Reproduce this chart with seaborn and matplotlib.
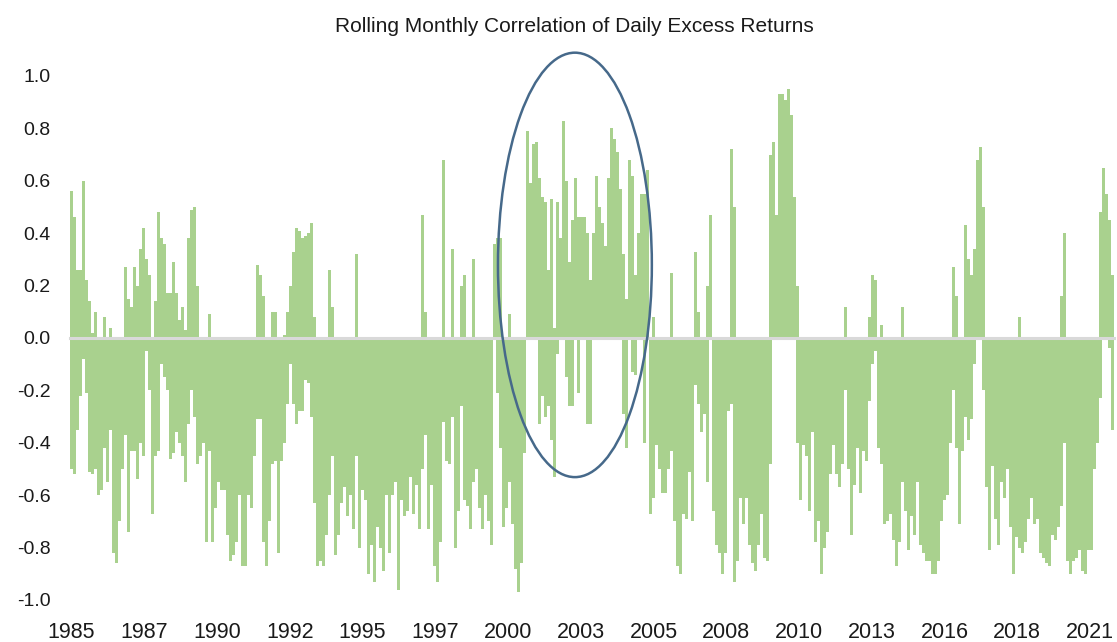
import numpy as np
import pandas as pd
import matplotlib
matplotlib.use("Agg")
import matplotlib.pyplot as plt
import seaborn as sns
from matplotlib.patches import Ellipse

# ---- data: rolling monthly correlation of daily excess returns ----
# The daily series is far denser than the pixels; each entry is one ~3 px bin,
# giving the highest (>=0) and lowest (<=0) daily correlation inside that bin.
high_1985_87 = [0.56, 0.46, 0.26, 0.26, 0.60, 0.22, 0.14, 0.02, 0.10, 0,
                0, 0.08, 0, 0.04, 0, 0, 0, 0, 0.27, 0.15,
                0.12, 0.27, 0.20, 0.34, 0.42, 0.30, 0.24, 0]
low_1985_87 = [-0.50, -0.52, -0.35, -0.22, -0.08, -0.21, -0.51, -0.52, -0.50, -0.60,
               -0.58, -0.42, -0.55, -0.35, -0.82, -0.86, -0.70, -0.50, -0.37, -0.74,
               -0.43, -0.43, -0.54, -0.40, -0.45, -0.05, -0.20, -0.67]

high_1988_90 = [0.14, 0.48, 0.38, 0.36, 0.17, 0.17, 0.29, 0.17, 0.07, 0.12,
                0.03, 0.38, 0.49, 0.50, 0.20, 0, 0, 0, 0.09, 0,
                0, 0, 0, 0, 0, 0, 0, 0, 0, 0,
                0, 0, 0, 0]
low_1988_90 = [-0.45, -0.43, -0.10, -0.15, -0.20, -0.46, -0.44, -0.36, -0.40, -0.45,
               -0.55, -0.33, -0.20, -0.30, -0.48, -0.45, -0.40, -0.78, -0.43, -0.78,
               -0.65, -0.55, -0.58, -0.58, -0.75, -0.85, -0.83, -0.78, -0.60, -0.87,
               -0.87, -0.60, -0.65, -0.45]

high_1991_94 = [0.28, 0.24, 0.16, 0, 0, 0.10, 0.10, 0, 0, 0.01,
                0.10, 0.20, 0.33, 0.42, 0.41, 0.38, 0.39, 0.40, 0.44, 0.08,
                0, 0, 0, 0, 0.26, 0.12, 0, 0, 0, 0,
                0]
low_1991_94 = [-0.31, -0.31, -0.78, -0.87, -0.70, -0.48, -0.47, -0.82, -0.47, -0.40,
               -0.25, -0.10, -0.25, -0.33, -0.28, -0.28, -0.16, -0.17, -0.30, -0.63,
               -0.87, -0.85, -0.87, -0.75, -0.60, -0.45, -0.83, -0.75, -0.63, -0.57,
               -0.68]

high_1994_97 = [0, 0, 0.32, 0, 0, 0, 0, 0, 0, 0,
                0, 0, 0, 0, 0, 0, 0, 0, 0, 0,
                0, 0, 0, 0, 0.47, 0.10, 0, 0, 0, 0,
                0, 0.68]
low_1994_97 = [-0.60, -0.73, -0.45, -0.80, -0.58, -0.62, -0.90, -0.79, -0.93, -0.72,
               -0.80, -0.89, -0.60, -0.82, -0.60, -0.55, -0.96, -0.62, -0.68, -0.66,
               -0.53, -0.67, -0.56, -0.73, -0.50, -0.37, -0.73, -0.56, -0.87, -0.93,
               -0.78, -0.32]

high_1998_01 = [0, 0, 0.34, 0, 0, 0.20, 0.24, 0, 0, 0.30,
                0, 0, 0, 0, 0, 0, 0.36, 0.38, 0.38, 0,
                0, 0.09, 0, 0, 0, 0, 0, 0.79, 0.59, 0.74,
                0.75, 0.61]
low_1998_01 = [-0.47, -0.48, -0.30, -0.80, -0.66, -0.26, -0.62, -0.64, -0.73, -0.55,
               -0.50, -0.65, -0.73, -0.60, -0.70, -0.79, 0, -0.21, -0.42, -0.72,
               -0.65, -0.55, -0.71, -0.88, -0.97, -0.86, -0.44, 0, 0, 0,
               0, -0.33]

high_2001_04 = [0.54, 0.52, 0.26, 0.53, 0.04, 0.52, 0.38, 0.83, 0.60, 0.29,
                0.45, 0.61, 0.46, 0.46, 0.46, 0.40, 0.22, 0.40, 0.62, 0.50,
                0.44, 0.35, 0.61, 0.80, 0.76, 0.71, 0.57, 0.32, 0.15, 0.68,
                0.62]
low_2001_04 = [-0.22, -0.30, -0.26, -0.39, -0.53, -0.06, 0, 0, -0.15, -0.26,
               -0.26, 0, -0.21, 0, 0, -0.33, -0.33, 0, 0, 0,
               0, 0, 0, 0, 0, 0, 0, -0.29, -0.42, 0,
               -0.13]

high_2004_07 = [0.24, 0.40, 0.55, 0.55, 0.64, 0, 0.08, 0, 0, 0,
                0, 0, 0.25, 0, 0, 0, 0, 0, 0, 0,
                0.33, 0.10, 0, 0, 0.20, 0.47, 0, 0, 0, 0,
                0, 0]
low_2004_07 = [-0.14, 0, 0, -0.40, 0, -0.67, -0.61, -0.41, -0.50, -0.59,
               -0.59, -0.50, -0.43, -0.70, -0.87, -0.90, -0.67, -0.69, -0.51, -0.70,
               -0.18, -0.25, -0.36, -0.29, -0.55, 0, -0.66, -0.79, -0.82, -0.90,
               -0.82, -0.28]

high_2007_10 = [0.72, 0.50, 0, 0, 0, 0, 0, 0, 0, 0,
                0, 0, 0, 0.70, 0.75, 0.47, 0.93, 0.93, 0.91, 0.95,
                0.85, 0.54, 0.20, 0, 0, 0, 0, 0, 0, 0,
                0, 0]
low_2007_10 = [-0.25, -0.93, -0.85, -0.61, -0.71, -0.61, -0.79, -0.86, -0.89, -0.79,
               -0.67, -0.84, -0.85, -0.48, 0, 0, 0, 0, 0, 0,
               0, 0, -0.40, -0.62, -0.41, -0.45, -0.66, -0.36, -0.78, -0.70,
               -0.90, -0.80]

high_2011_14 = [0, 0, 0, 0, 0, 0, 0.12, 0, 0, 0,
                0, 0, 0, 0, 0.08, 0.24, 0.22, 0, 0.05, 0,
                0, 0, 0, 0, 0, 0.12, 0, 0, 0, 0,
                0]
low_2011_14 = [-0.74, -0.52, -0.41, -0.52, -0.57, -0.48, -0.20, -0.50, -0.75, -0.56,
               -0.42, -0.59, -0.43, -0.47, -0.24, -0.10, -0.05, -0.42, -0.48, -0.71,
               -0.70, -0.67, -0.77, -0.87, -0.78, -0.55, -0.66, -0.81, -0.68, -0.75,
               -0.55]

high_2014_17 = [0, 0, 0, 0, 0, 0, 0, 0, 0, 0,
                0, 0.27, 0.16, 0, 0, 0.43, 0.30, 0.24, 0.34, 0.68,
                0.73, 0.50, 0, 0, 0, 0, 0, 0, 0, 0,
                0, 0]
low_2014_17 = [-0.79, -0.82, -0.85, -0.85, -0.90, -0.90, -0.85, -0.70, -0.62, -0.60,
               -0.40, -0.20, -0.42, -0.71, -0.43, -0.30, -0.39, -0.31, -0.10, 0,
               0, -0.20, -0.57, -0.81, -0.49, -0.69, -0.79, -0.55, -0.61, -0.50,
               -0.72, -0.90]

high_2017_21 = [0, 0.08, 0, 0, 0, 0, 0, 0, 0, 0,
                0, 0, 0, 0, 0, 0.16, 0.40, 0, 0, 0,
                0, 0, 0, 0, 0, 0, 0, 0, 0.48, 0.65,
                0.55, 0.45, 0.24]
low_2017_21 = [-0.76, -0.80, -0.82, -0.78, -0.69, -0.61, -0.71, -0.69, -0.82, -0.84,
               -0.86, -0.87, -0.75, -0.77, -0.72, -0.64, -0.40, -0.85, -0.90, -0.85,
               -0.84, -0.81, -0.89, -0.90, -0.81, -0.81, -0.50, -0.40, -0.23, 0,
               0, -0.04, -0.35]

year_labels = ["1985", "1987", "1990", "1992", "1995", "1997", "2000", "2003",
               "2005", "2008", "2010", "2013", "2016", "2018", "2021"]
y_values = [-1.0, -0.8, -0.6, -0.4, -0.2, 0.0, 0.2, 0.4, 0.6, 0.8, 1.0]
y_labels = ["-1.0", "-0.8", "-0.6", "-0.4", "-0.2", "0.0", "0.2", "0.4", "0.6", "0.8", "1.0"]
title = "Rolling Monthly Correlation of Daily Excess Returns"

high = np.concatenate([high_1985_87, high_1988_90, high_1991_94, high_1994_97,
                       high_1998_01, high_2001_04, high_2004_07, high_2007_10,
                       high_2011_14, high_2014_17, high_2017_21])
low = np.concatenate([low_1985_87, low_1988_90, low_1991_94, low_1994_97,
                      low_1998_01, low_2001_04, low_2004_07, low_2007_10,
                      low_2011_14, low_2014_17, low_2017_21])
assert len(high) == len(low)
n = len(high)
df = pd.DataFrame({"obs": np.arange(n), "high": high, "low": low})

# ---- style ----
sns.set_theme(style="white")
plt.rcParams["font.family"] = ["Liberation Sans", "DejaVu Sans"]
TEXT = "#1a1a1a"
BAR = "#A9D18E"
AXIS = "#D9D9D9"

W, H = 1117, 642
fig = plt.figure(figsize=(W / 100, H / 100), dpi=100)
fig.patch.set_facecolor("white")
ax = fig.add_axes([70 / W, 1 - 600 / H, (1114 - 70) / W, (600 - 76) / H])

for col in ["high", "low"]:
    sns.barplot(data=df, x="obs", y=col, native_scale=True, color=BAR, saturation=1,
                width=1.0, linewidth=0, errorbar=None, ax=ax)

ax.set_xlim(-0.5, n - 0.5)
ax.set_ylim(-1.0, 1.0)
ax.set_xlabel("")
ax.set_ylabel("")

# y axis
ax.set_yticks(y_values, y_labels)
ax.tick_params(axis="y", length=0, pad=14, labelsize=14, labelcolor=TEXT)
for s in ["top", "right", "left"]:
    ax.spines[s].set_visible(False)

# horizontal axis line at zero with tick marks
tick_step = 24.25
tick_pos = np.arange(len(year_labels)) * tick_step
ax.spines["bottom"].set_position(("data", 0))
ax.spines["bottom"].set_color(AXIS)
ax.spines["bottom"].set_linewidth(2.2)
ax.set_xticks(tick_pos)
ax.tick_params(axis="x", direction="out", length=4, width=1.5, color=AXIS,
               labelbottom=False)

# year labels at the bottom of the plot area
sec = ax.secondary_xaxis("bottom")
sec.set_xticks(tick_pos, year_labels)
sec.tick_params(axis="x", length=0, pad=16, labelsize=15.5, labelcolor=TEXT)
for s in sec.spines.values():
    s.set_visible(False)

# highlight ellipse
ell = Ellipse((167.8, 0.279), width=51.3, height=1.62, fill=False,
              edgecolor="#46698A", linewidth=1.8, clip_on=False, zorder=5)
ax.add_patch(ell)

fig.text(574 / W, 1 - 27 / H, title, ha="center", va="center", fontsize=15, color=TEXT)

fig.savefig("out.png", dpi=100, facecolor="white")
